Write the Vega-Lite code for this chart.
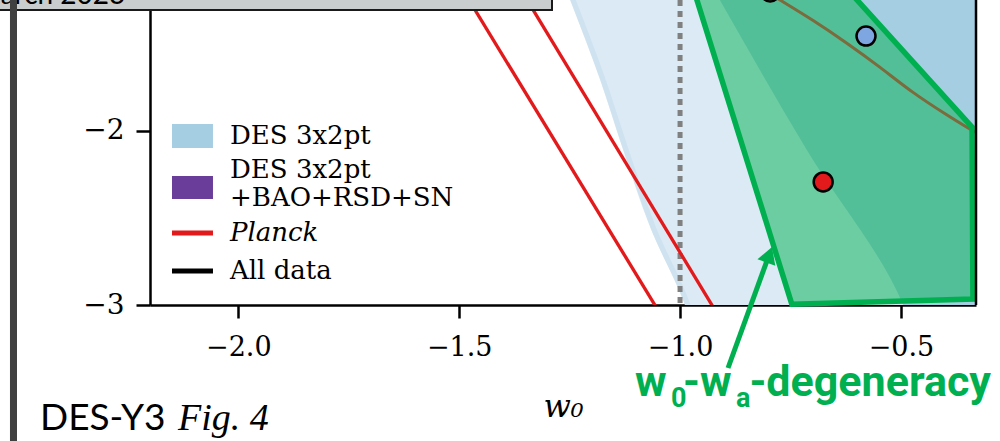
{
  "$schema": "https://vega.github.io/schema/vega-lite/v6.json",
  "width": 826,
  "height": 305,
  "autosize": {"type": "none"},
  "padding": {"left": 150, "top": 0, "right": 24, "bottom": 136},
  "background": "white",
  "config": {
    "view": {"stroke": null},
    "font": "DejaVu Serif",
    "axis": {"labelColor": "black", "domainColor": "black", "tickColor": "black", "grid": false}
  },
  "data": {"values": [{}]},
  "datasets": {
    "c95": [
      {"w0": -1.275, "wa": -1.08},
      {"w0": -1.249, "wa": -1.25},
      {"w0": -1.181, "wa": -1.709},
      {"w0": -1.129, "wa": -2.111},
      {"w0": -1.068, "wa": -2.552},
      {"w0": -0.989, "wa": -3.0},
      {"w0": -0.975, "wa": -3.1}
    ],
    "c68": [
      {"w0": -0.948, "wa": -1.08},
      {"w0": -0.910, "wa": -1.25},
      {"w0": -0.713, "wa": -2.111},
      {"w0": -0.495, "wa": -3.0},
      {"w0": -0.48, "wa": -3.1}
    ],
    "planck": [
      {"line": "a", "w0": -1.538, "wa": -1.0},
      {"line": "a", "w0": -1.033, "wa": -3.1},
      {"line": "b", "w0": -1.406, "wa": -1.0},
      {"line": "b", "w0": -0.904, "wa": -3.1}
    ],
    "alldata": [
      {"w0": -0.848, "wa": -1.135},
      {"w0": -0.774, "wa": -1.250},
      {"w0": -0.699, "wa": -1.365},
      {"w0": -0.622, "wa": -1.497},
      {"w0": -0.547, "wa": -1.635},
      {"w0": -0.473, "wa": -1.784},
      {"w0": -0.396, "wa": -1.910},
      {"w0": -0.348, "wa": -1.985},
      {"w0": -0.310, "wa": -2.04}
    ],
    "polyband": [
      {"wa": -1.021, "xl": -0.990, "xr": -0.681},
      {"wa": -1.979, "xl": -0.872, "xr": -0.339},
      {"wa": -2.966, "xl": -0.7506, "xr": -0.337},
      {"wa": -2.995, "xl": -0.747, "xr": -0.747}
    ],
    "poly": [
      {"i": 1, "w0": -0.990, "wa": -1.021},
      {"i": 2, "w0": -0.681, "wa": -1.021},
      {"i": 3, "w0": -0.339, "wa": -1.979},
      {"i": 4, "w0": -0.337, "wa": -2.966},
      {"i": 5, "w0": -0.747, "wa": -2.995},
      {"i": 6, "w0": -0.990, "wa": -1.021}
    ],
    "pts": [
      {"c": "dark", "w0": -0.796, "wa": -1.204},
      {"c": "blue", "w0": -0.579, "wa": -1.457},
      {"c": "red", "w0": -0.676, "wa": -2.294}
    ]
  },
  "layer": [
    {
      "data": {"name": "c95"},
      "mark": {"type": "area", "orient": "horizontal", "color": "#dbeaf4", "clip": true, "interpolate": "monotone"},
      "encoding": {
        "y": {"field": "wa", "type": "quantitative",
          "scale": {"domain": [-3, -1.25], "nice": false, "zero": false},
          "axis": {"values": [-3, -2], "title": null, "format": "d",
            "labelExpr": "replace(datum.label, '-', '−')",
            "tickSize": 14, "tickWidth": 2.5, "domainWidth": 2.5,
            "labelFont": "DejaVu Serif", "labelFontSize": 28, "labelPadding": 12}},
        "x": {"field": "w0", "type": "quantitative",
          "scale": {"domain": [-2.2, -0.33], "nice": false, "zero": false},
          "axis": {"values": [-2, -1.5, -1, -0.5], "format": ".1f",
            "labelExpr": "replace(datum.label, '-', '−')",
            "title": "w₀", "titleFont": "DejaVu Serif", "titleFontStyle": "italic",
            "titleFontWeight": "normal", "titleFontSize": 32, "titlePadding": 31, "titleColor": "black",
            "tickSize": 13, "tickWidth": 2.5, "domainWidth": 2.5,
            "labelFont": "DejaVu Serif", "labelFontSize": 27, "labelPadding": 16, "labelFlush": false}},
        "x2": {"datum": -0.1}
      }
    },
    {
      "data": {"name": "c95"},
      "mark": {"type": "line", "color": "#c4dcec", "strokeWidth": 5, "opacity": 0.6, "xOffset": 3, "clip": true, "interpolate": "monotone"},
      "encoding": {
        "x": {"field": "w0", "type": "quantitative"},
        "y": {"field": "wa", "type": "quantitative"},
        "order": {"field": "wa", "sort": "descending"}
      }
    },
    {
      "data": {"name": "c68"},
      "mark": {"type": "area", "orient": "horizontal", "color": "#a6cee3", "clip": true, "interpolate": "monotone"},
      "encoding": {
        "y": {"field": "wa", "type": "quantitative"},
        "x": {"field": "w0", "type": "quantitative"},
        "x2": {"datum": -0.1}
      }
    },
    {
      "mark": {"type": "rule", "color": "#808080", "strokeWidth": 5, "strokeDash": [6, 5]},
      "encoding": {"x": {"datum": -1.0}}
    },
    {
      "data": {"name": "planck"},
      "mark": {"type": "line", "color": "#e31a1c", "strokeWidth": 3.3, "clip": true},
      "encoding": {
        "x": {"field": "w0", "type": "quantitative"},
        "y": {"field": "wa", "type": "quantitative"},
        "detail": {"field": "line"}
      }
    },
    {
      "data": {"name": "polyband"},
      "mark": {"type": "area", "orient": "horizontal", "fill": "#00b050", "fillOpacity": 0.5},
      "encoding": {
        "y": {"field": "wa", "type": "quantitative"},
        "x": {"field": "xl", "type": "quantitative"},
        "x2": {"field": "xr"}
      }
    },
    {
      "data": {"name": "alldata"},
      "mark": {"type": "line", "color": "#7b6b3d", "strokeWidth": 3, "clip": true, "interpolate": "basis"},
      "encoding": {
        "x": {"field": "w0", "type": "quantitative"},
        "y": {"field": "wa", "type": "quantitative"}
      }
    },
    {
      "data": {"name": "poly"},
      "mark": {"type": "line", "color": "#00b050", "strokeWidth": 5.5, "strokeJoin": "miter"},
      "encoding": {
        "x": {"field": "w0", "type": "quantitative"},
        "y": {"field": "wa", "type": "quantitative"},
        "order": {"field": "i"}
      }
    },
    {
      "data": {"name": "pts"},
      "mark": {"type": "point", "filled": true, "size": 360, "stroke": "black", "strokeWidth": 2.5, "opacity": 1, "clip": true},
      "encoding": {
        "x": {"field": "w0", "type": "quantitative"},
        "y": {"field": "wa", "type": "quantitative"},
        "fill": {"field": "c", "type": "nominal",
          "scale": {"domain": ["dark", "blue", "red"], "range": ["#2a6b4f", "#7ea6e0", "#e31a1c"]},
          "legend": null}
      }
    },
    {
      "mark": {"type": "rule", "color": "black", "strokeWidth": 2.5},
      "encoding": {"x": {"datum": -0.33}}
    },
    {
      "mark": {"type": "rule", "color": "#00b050", "strokeWidth": 5},
      "encoding": {"x": {"datum": -0.8914}, "y": {"datum": -3.3615}, "x2": {"datum": -0.8027}, "y2": {"datum": -2.7424}}
    },
    {
      "mark": {"type": "point", "filled": true, "color": "#00b050", "opacity": 1, "size": 400, "angle": 20,
        "shape": "M0,0L0.95,1.65L-0.95,1.65Z"},
      "encoding": {"x": {"datum": -0.7918}, "y": {"datum": -2.667}}
    },
    {
      "mark": {"type": "text", "text": "w", "align": "left", "baseline": "alphabetic", "font": "Roboto", "fontWeight": "bold", "fontSize": 43, "color": "#00b050"},
      "encoding": {"x": {"datum": -1.102}, "y": {"datum": -3.522}}
    },
    {
      "mark": {"type": "text", "text": "0", "align": "left", "baseline": "alphabetic", "font": "Roboto", "fontWeight": "bold", "fontSize": 27, "color": "#00b050"},
      "encoding": {"x": {"datum": -1.0205}, "y": {"datum": -3.585}}
    },
    {
      "mark": {"type": "text", "text": "-w", "align": "left", "baseline": "alphabetic", "font": "Roboto", "fontWeight": "bold", "fontSize": 43, "color": "#00b050"},
      "encoding": {"x": {"datum": -0.9933}, "y": {"datum": -3.522}}
    },
    {
      "mark": {"type": "text", "text": "a", "align": "left", "baseline": "alphabetic", "font": "Roboto", "fontWeight": "bold", "fontSize": 27, "color": "#00b050"},
      "encoding": {"x": {"datum": -0.8733}, "y": {"datum": -3.585}}
    },
    {
      "mark": {"type": "text", "text": "-degeneracy", "align": "right", "baseline": "alphabetic", "font": "Roboto", "fontWeight": "bold", "fontSize": 43, "color": "#00b050"},
      "encoding": {"x": {"datum": -0.296}, "y": {"datum": -3.522}}
    },
    {
      "mark": {"type": "text", "text": "DES-Y3", "align": "left", "baseline": "alphabetic", "font": "Lato", "fontSize": 37, "color": "black"},
      "encoding": {"x": {"datum": -2.449}, "y": {"datum": -3.7172}}
    },
    {
      "mark": {"type": "text", "text": "Fig. 4", "align": "left", "baseline": "alphabetic", "font": "Liberation Serif", "fontStyle": "italic", "fontSize": 38, "color": "black"},
      "encoding": {"x": {"datum": -2.1366}, "y": {"datum": -3.7172}}
    },
    {
      "mark": {"type": "rect", "fill": "#c9cdcd", "stroke": "#1a1a1a", "strokeWidth": 2},
      "encoding": {"x": {"datum": -2.7}, "x2": {"datum": -1.2899}, "y": {"datum": -0.9}, "y2": {"datum": -1.3074}}
    },
    {
      "mark": {"type": "text", "text": "March 2023", "align": "left", "baseline": "alphabetic", "font": "Lato", "fontSize": 28, "color": "black"},
      "encoding": {"x": {"datum": -2.596}, "y": {"datum": -1.273}}
    },
    {
      "mark": {"type": "rect", "fill": "#404040"},
      "encoding": {"x": {"datum": -2.517}, "x2": {"datum": -2.5011}, "y": {"datum": -0.9}, "y2": {"datum": -4.3}}
    },
    {
      "mark": {"type": "rect", "fill": "#a6cee3"},
      "encoding": {"x": {"datum": -2.1502}, "x2": {"datum": -2.0574}, "y": {"datum": -1.9616}, "y2": {"datum": -2.0993}}
    },
    {
      "mark": {"type": "rect", "fill": "#6a3d9a"},
      "encoding": {"x": {"datum": -2.1502}, "x2": {"datum": -2.0574}, "y": {"datum": -2.2598}, "y2": {"datum": -2.3919}}
    },
    {
      "mark": {"type": "rule", "color": "#e31a1c", "strokeWidth": 5},
      "encoding": {"x": {"datum": -2.1502}, "x2": {"datum": -2.0574}, "y": {"datum": -2.5869}}
    },
    {
      "mark": {"type": "rule", "color": "black", "strokeWidth": 5},
      "encoding": {"x": {"datum": -2.1502}, "x2": {"datum": -2.0574}, "y": {"datum": -2.8049}}
    },
    {
      "mark": {"type": "text", "text": "DES 3x2pt", "align": "left", "baseline": "middle", "fontSize": 26, "font": "DejaVu Serif", "color": "black"},
      "encoding": {"x": {"datum": -2.0189}, "y": {"datum": -2.0304}}
    },
    {
      "mark": {"type": "text", "text": "DES 3x2pt", "align": "left", "baseline": "middle", "fontSize": 26, "font": "DejaVu Serif", "color": "black"},
      "encoding": {"x": {"datum": -2.0189}, "y": {"datum": -2.2255}}
    },
    {
      "mark": {"type": "text", "text": "+BAO+RSD+SN", "align": "left", "baseline": "middle", "fontSize": 26, "font": "DejaVu Serif", "color": "black"},
      "encoding": {"x": {"datum": -2.0189}, "y": {"datum": -2.3861}}
    },
    {
      "mark": {"type": "text", "text": "Planck", "align": "left", "baseline": "middle", "fontSize": 26, "font": "DejaVu Serif", "fontStyle": "italic", "color": "black"},
      "encoding": {"x": {"datum": -2.0189}, "y": {"datum": -2.5869}}
    },
    {
      "mark": {"type": "text", "text": "All data", "align": "left", "baseline": "middle", "fontSize": 26, "font": "DejaVu Serif", "color": "black"},
      "encoding": {"x": {"datum": -2.0189}, "y": {"datum": -2.8049}}
    }
  ]
}
